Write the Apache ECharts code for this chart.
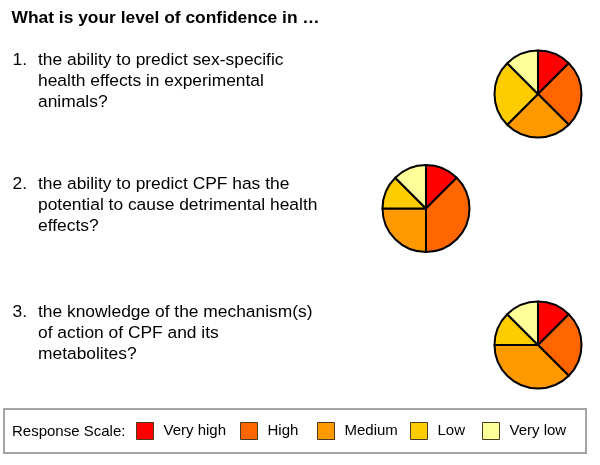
<!DOCTYPE html>
<html>
<head>
<meta charset="utf-8">
<script src="https://cdn.jsdelivr.net/npm/echarts@6/dist/echarts.min.js"></script>
<style>
html,body{margin:0;padding:0;background:#fff;}
#chart{width:600px;height:465px;}
</style>
</head>
<body>
<div id="chart"></div>
<script>
// ---- data ----
const responseLevels = ['Very high', 'High', 'Medium', 'Low', 'Very low'];
const levelColors = ['#FF0000', '#FF6600', '#FF9900', '#FFCC00', '#FFFF99'];
const q1Values = [1, 2, 2, 2, 1];
const q2Values = [1, 3, 2, 1, 1];
const q3Values = [1, 2, 3, 1, 1];
const heading = 'What is your level of confidence in …';
const questionNumbers = ['1.', '2.', '3.'];
const questionLines = [
  ['the ability to predict sex-specific', 'health effects in experimental', 'animals?'],
  ['the ability to predict CPF has the', 'potential to cause detrimental health', 'effects?'],
  ['the knowledge of the mechanism(s)', 'of action of CPF and its', 'metabolites?']
];
const legendTitle = 'Response Scale:';

// ---- layout ----
const FONT = '"Liberation Sans", Arial, Helvetica, sans-serif';
const pieCenters = [[538, 94], [426, 208.5], [538, 345]];
const pieRadius = 43.5;
const questionTops = [49.6, 173.6, 301.4];
const legendLefts = [136, 240, 317, 410, 482];

const allValues = [q1Values, q2Values, q3Values];

const series = allValues.map((vals, i) => ({
  type: 'pie',
  center: pieCenters[i],
  radius: pieRadius,
  startAngle: 90,
  clockwise: true,
  silent: true,
  label: { show: false },
  labelLine: { show: false },
  emphasis: { disabled: true },
  itemStyle: { borderColor: '#000', borderWidth: 2 },
  data: responseLevels.map((name, k) => ({
    name: name,
    value: vals[k],
    itemStyle: { color: levelColors[k] }
  }))
}));

const legends = responseLevels.map((name, k) => ({
  data: [name],
  left: legendLefts[k],
  top: 422,
  padding: 0,
  itemWidth: 17,
  itemHeight: 17,
  icon: 'rect',
  selectedMode: false,
  itemStyle: { borderColor: '#4a3a20', borderWidth: 1 },
  textStyle: { fontFamily: FONT, fontSize: 15, color: '#000', padding: [3, 0, 0, 5] }
}));

const graphics = [
  {
    type: 'rect',
    shape: { x: 4, y: 409, width: 582, height: 44 },
    style: { fill: 'none', stroke: '#a3a3a3', lineWidth: 2 },
    silent: true
  },
  {
    type: 'text',
    x: 12, y: 432.1,
    style: { text: legendTitle, font: '15px ' + FONT, fill: '#000', verticalAlign: 'middle' },
    silent: true
  },
  {
    type: 'text',
    x: 11.5, y: 18,
    style: { text: heading, font: 'bold 17.4px ' + FONT, fill: '#000', verticalAlign: 'middle' },
    silent: true
  }
];
questionLines.forEach((lines, i) => {
  graphics.push({
    type: 'text',
    x: 12.5, y: questionTops[i],
    style: { text: questionNumbers[i], font: '17.4px ' + FONT, fill: '#000', lineHeight: 21.2, verticalAlign: 'top' },
    silent: true
  });
  graphics.push({
    type: 'text',
    x: 38, y: questionTops[i],
    style: { text: lines.join('\n'), font: '17.4px ' + FONT, fill: '#000', lineHeight: 21.2, verticalAlign: 'top' },
    silent: true
  });
});

const chart = echarts.init(document.getElementById('chart'), null, { renderer: 'canvas' });
chart.setOption({
  animation: false,
  backgroundColor: '#fff',
  legend: legends,
  series: series,
  graphic: graphics
});
</script>
</body>
</html>
